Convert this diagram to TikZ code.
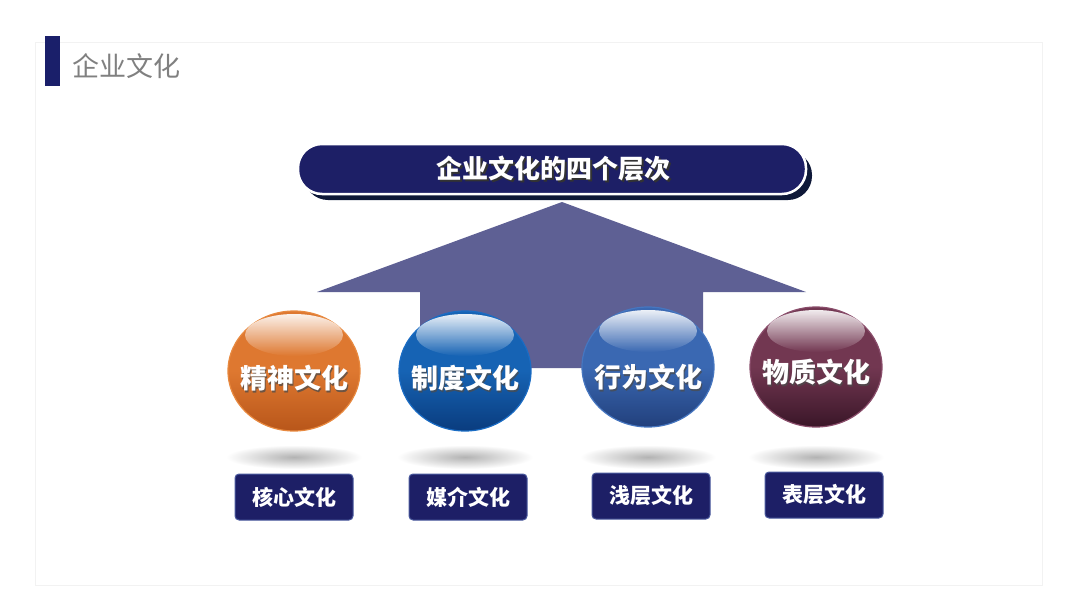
\documentclass[tikz,border=0pt]{standalone}
\usepackage{fontspec}
\newfontfamily\cjk{Noto Sans CJK SC}
\usetikzlibrary{shapes.geometric,fadings}
\definecolor{navy}{HTML}{1D1F66}
\definecolor{navybar}{HTML}{1A1F6A}
\definecolor{arrowc}{HTML}{5E6094}
\definecolor{shadowc}{HTML}{0E1838}
\definecolor{boxline}{HTML}{4A5A9E}
\definecolor{oM}{HTML}{DE7830}\definecolor{oD}{HTML}{B8561A}\definecolor{oE}{HTML}{E8893F}
\definecolor{bM}{HTML}{1663B4}\definecolor{bD}{HTML}{0A3C7E}\definecolor{bE}{HTML}{1A6CC4}
\definecolor{cM}{HTML}{3A68B2}\definecolor{cD}{HTML}{22407C}\definecolor{cE}{HTML}{4676C0}
\definecolor{mM}{HTML}{723751}\definecolor{mD}{HTML}{3A1628}\definecolor{mE}{HTML}{8A4D6B}
\tikzfading[name=hlfade, top color=transparent!5, bottom color=transparent!100]
\tikzset{
  every node/.style={inner sep=0pt, outer sep=0pt},
  spheretext/.style={font=\cjk\bfseries\fontsize{27}{30}\selectfont, text=white},
  sphereshadowtext/.style={font=\cjk\bfseries\fontsize{27}{30}\selectfont, text=black!70, opacity=0.75},
  labelbox/.style={draw=boxline, line width=1pt, fill=navy, rounded corners=4pt, minimum width=118pt, minimum height=46pt, font=\cjk\bfseries\fontsize{21}{24}\selectfont, text=white},
  groundshadow/.style={inner color=black!30, outer color=white},
}
\begin{document}
\begin{tikzpicture}[x=1pt,y=-1pt]
\useasboundingbox (0,0) rectangle (1080,608);
\fill[white] (0,0) rectangle (1080,608);
% faint panel
\draw[black!5, line width=1pt] (35,42) rectangle (1042,585);
% header
\fill[navybar] (45,36) rectangle (60,86);
\node[anchor=west, font=\cjk\fontsize{27}{30}\selectfont, text=black!50] (hdr) at (72,66) {企业文化};
% arrow
\fill[arrowc] (562,202) -- (806,292) -- (703,292) -- (703,368) -- (420,368) -- (420,292) -- (317,292) -- cycle;
% title banner
\fill[shadowc, rounded corners=24pt] (304,151) rectangle (812,200);
\draw[white, line width=2.5pt, fill=navy, rounded corners=24pt] (298,144) rectangle (806,194);
\node[font=\cjk\bfseries\fontsize{26}{28}\selectfont, text=black!80] (titleshadow) at (555,171) {企业文化的四个层次};
\node[font=\cjk\bfseries\fontsize{26}{28}\selectfont, text=white] (title) at (553,169) {企业文化的四个层次};
% spheres
\foreach \id/\cx/\cy/\M/\D/\E/\ty/\txt/\lx/\ly/\lab in {
  a/294/371/oM/oD/oE/378/精神文化/294/497/核心文化,
  b/465/371/bM/bD/bE/378/制度文化/468/497/媒介文化,
  c/648/367/cM/cD/cE/377/行为文化/651/496/浅层文化,
  d/816/367/mM/mD/mE/372/物质文化/824/495/表层文化}{
  % ground shadow
  \shade[groundshadow] (\cx,457) ellipse (68pt and 12pt);
  % body
  \shade[top color=\M, bottom color=\D, middle color=\M] (\cx,\cy) ellipse (66pt and 60pt);
  \draw[\E, line width=1.2pt] (\cx,\cy) ellipse (66pt and 60pt);
  % highlight
  \fill[white, path fading=hlfade, opacity=0.95] (\cx,\cy-36) ellipse (49pt and 21pt);
  % text
  \node[sphereshadowtext] (s\id) at (\cx+1.8,\ty+1.8) {\txt};
  \node[spheretext] (t\id) at (\cx,\ty) {\txt};
  % label box
  \node[labelbox] (l\id) at (\lx,\ly) {\lab};
}
\end{tikzpicture}
\end{document}
